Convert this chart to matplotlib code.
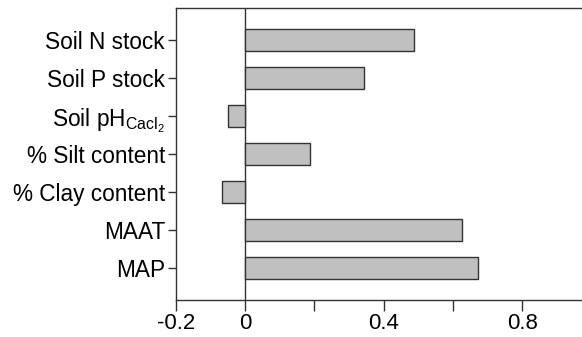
import numpy as np
import matplotlib.pyplot as plt
from matplotlib.ticker import FixedLocator

plt.rcParams["font.family"] = ["Liberation Sans", "DejaVu Sans"]
plt.rcParams["mathtext.fontset"] = "custom"
plt.rcParams["mathtext.rm"] = "Liberation Sans"
plt.rcParams["mathtext.it"] = "Liberation Sans"

labels = ["MAP", "MAAT", "% Clay content", "% Silt content",
          r"Soil pH$_{\mathregular{Cacl_2}}$", "Soil P stock", "Soil N stock"]
values = [0.672, 0.625, -0.066, 0.188, -0.049, 0.343, 0.488]

EDGE = "#333333"
fig = plt.figure(figsize=(5.82, 3.37), dpi=100)
ax = fig.add_axes([176 / 582, 1 - 300 / 337, (582 - 176) / 582, 292 / 337])

y = np.arange(len(labels))
ax.barh(y, values, height=0.58, color="#c0c0c0", edgecolor=EDGE, linewidth=1.0, zorder=3)
ax.axvline(0, color=EDGE, lw=1.0, zorder=2)

ax.set_xlim(-0.2, 0.9726)
ax.set_ylim(-0.84, 6.84)
ax.set_yticks(y)
ax.set_yticklabels(labels)
ax.xaxis.set_major_locator(FixedLocator([-0.2, 0, 0.4, 0.8]))
ax.xaxis.set_minor_locator(FixedLocator([0.2, 0.6]))
ax.set_xticklabels(["-0.2", "0", "0.4", "0.8"])

for s in ["left", "bottom", "top"]:
    ax.spines[s].set_color(EDGE)
    ax.spines[s].set_linewidth(1.0)
ax.spines["right"].set_visible(False)

ax.tick_params(axis="both", which="both", direction="out", color=EDGE, width=1.0, labelcolor="black")
ax.tick_params(axis="y", length=6, pad=2, labelsize=16.3)
ax.tick_params(axis="x", which="both", length=8, pad=1.5, labelsize=16)

fig.savefig("out.png", dpi=100)
